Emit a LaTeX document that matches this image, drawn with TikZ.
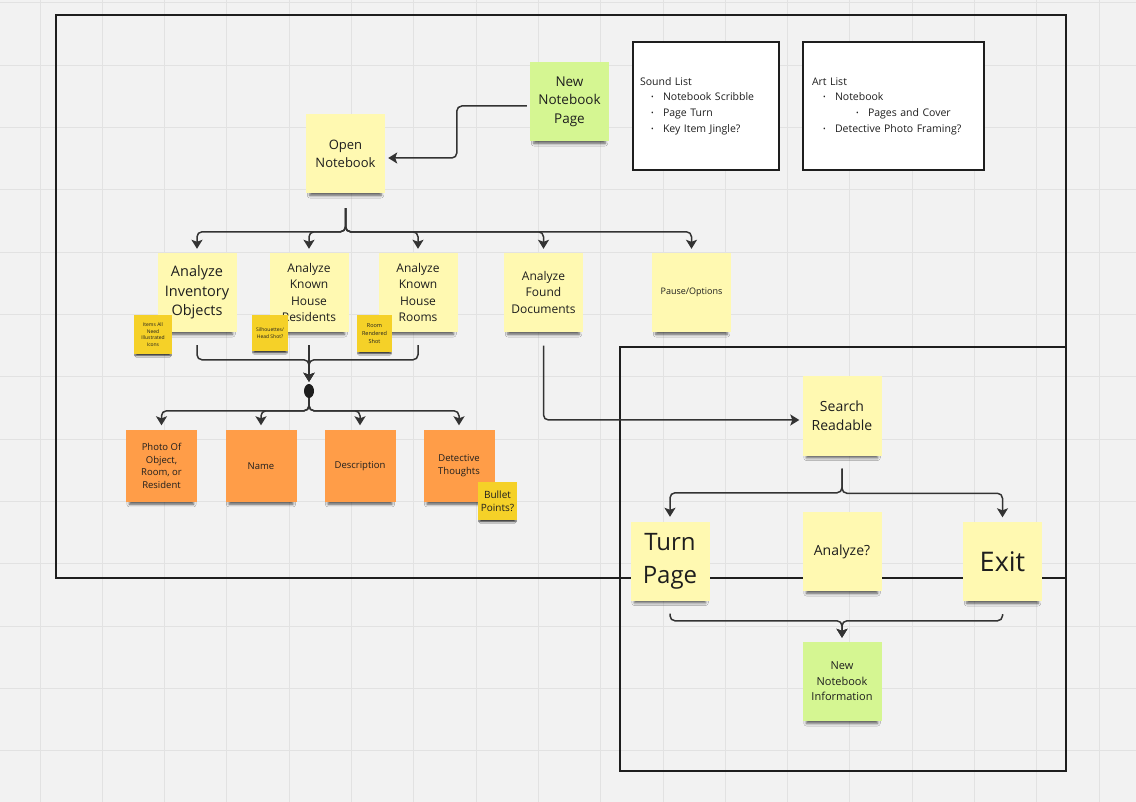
\documentclass[tikz,border=0pt]{standalone}
\usepackage{fontspec}
\setmainfont{Open Sans}
\usetikzlibrary{arrows.meta,shapes.geometric,shadows.blur}
\definecolor{board}{HTML}{F2F2F2}
\definecolor{gridline}{HTML}{E2E2E2}
\definecolor{ink}{HTML}{1E1E1E}
\definecolor{wire}{HTML}{333333}
\definecolor{noteyellow}{HTML}{FFF9B1}
\definecolor{notegreen}{HTML}{D5F692}
\definecolor{noteorange}{HTML}{FF9D48}
\definecolor{notegold}{HTML}{F5D128}
\newcommand\listdot{\raisebox{.2ex}{\fontsize{7}{7}\selectfont\textbullet}}
\newcommand\fs[2]{\fontsize{#1}{#2}\selectfont}

\begin{document}
\begin{tikzpicture}[x=1pt,y=-1pt,
    paper/.style={minimum width=79pt,minimum height=79pt,inner sep=2pt,align=center,text=ink,
        blur shadow={shadow xshift=0pt,shadow yshift=-7pt,shadow scale=.9,shadow opacity=65,shadow blur radius=3pt}},
    yellownote/.style={paper,fill=noteyellow},
    greennote/.style={paper,fill=notegreen},
    orangenote/.style={paper,fill=noteorange,minimum width=71pt,minimum height=71pt,font=\fs{9.5}{12.7}},
    tagnote/.style={paper,fill=notegold,inner sep=1pt,font=\fs{5}{6.5},
        blur shadow={shadow xshift=0pt,shadow yshift=-4pt,shadow scale=.9,shadow opacity=50,shadow blur radius=1.5pt}},
    listbox/.style={draw=ink,line width=1.3pt,fill=white,align=left,minimum height=128pt,text=ink,font=\fs{10.5}{15.7}},
    frame/.style={draw=ink,line width=1.3pt},
    arr/.style={draw=wire,line width=1.5pt,rounded corners=5pt,-{Stealth[length=9pt,width=11pt,inset=2pt]}}]

    % board and grid
    \fill[board] (0,0) rectangle (1136,802);
    \useasboundingbox (0,0) rectangle (1136,802);
    \foreach \i in {0,...,17}
        \draw[gridline,line width=1pt] ({40+62.3*\i},0) -- ({40+62.3*\i},802);
    \foreach \j in {0,...,12}
        \draw[gridline,line width=1pt] (0,{3+62.3*\j}) -- (1136,{3+62.3*\j});

    % frames
    \draw[frame] (56,15) rectangle (1066,578);
    \draw[frame] (620,347) rectangle (1066,771);

    % top
    \node[greennote,font=\fs{13.5}{18.5}] (newpage) at (569.5,101.5) {New\\Notebook\\Page};
    \node[yellownote,font=\fs{13}{18}] (open) at (345.5,153.5) {Open\\Notebook};
    \node[listbox,minimum width=146pt,inner xsep=7pt,text width=132pt] (sound) at (706,106)
        {Sound List\\
         \hspace*{11pt}\makebox[12pt][l]{\listdot}Notebook Scribble\\
         \hspace*{11pt}\makebox[12pt][l]{\listdot}Page Turn\\
         \hspace*{11pt}\makebox[12pt][l]{\listdot}Key Item Jingle?};
    \node[listbox,minimum width=181pt,inner xsep=9pt,text width=163pt] (art) at (893.5,106)
        {Art List\\
         \hspace*{11pt}\makebox[12pt][l]{\listdot}Notebook\\
         \hspace*{44pt}\makebox[12pt][l]{\listdot}Pages and Cover\\
         \hspace*{11pt}\makebox[12pt][l]{\listdot}Detective Photo Framing?};

    % analyses
    \node[yellownote,font=\fs{14.5}{19.5}] (inv) at (197,292.5) {Analyze\\Inventory\\Objects};
    \node[yellownote,font=\fs{12}{16.3}] (res) at (309,292.5) {Analyze\\Known\\House\\Residents};
    \node[yellownote,font=\fs{12}{16.3}] (rooms) at (418,292.5) {Analyze\\Known\\House\\Rooms};
    \node[yellownote,font=\fs{12}{16.5}] (docs) at (543.5,292.5) {Analyze\\Found\\Documents};
    \node[yellownote,font=\fs{9}{12}] (pause) at (691.5,292.5) {Pause/Options};

    \node[tagnote,minimum width=38pt,minimum height=39pt] (icons) at (153,334.5) {Items All\\Need\\Illustrated\\Icons};
    \node[tagnote,minimum width=36pt,minimum height=36pt] (heads) at (270,333) {Silhouettes/\\Head Shot?};
    \node[tagnote,minimum width=35pt,minimum height=37pt,font=\fs{5.5}{8}] (shot) at (374.5,333.5) {Room\\Rendered\\Shot};

    \node[ellipse,fill=ink,minimum width=10pt,minimum height=14pt,inner sep=0pt] (merge) at (309,391) {};

    % page parts
    \node[orangenote] (photo) at (161.5,466) {Photo Of\\Object,\\Room, or\\Resident};
    \node[orangenote] (name) at (261,466) {Name};
    \node[orangenote] (desc) at (360,466) {Description};
    \node[orangenote] (thoughts) at (459,466) {Detective\\Thoughts};
    \node[tagnote,minimum width=39pt,minimum height=38pt,font=\fs{10}{13}] (bullets) at (497.5,501) {Bullet\\Points?};

    % readable
    \node[yellownote,font=\fs{14}{19}] (search) at (842,416) {Search\\Readable};
    \node[yellownote,font=\fs{24}{33}] (turn) at (670,561) {Turn\\Page};
    \node[yellownote,font=\fs{14}{19}] (analyze) at (842,551.5) {Analyze?};
    \node[yellownote,font=\fs{27}{33}] (exit) at (1002.5,561.5) {Exit};
    \node[greennote,font=\fs{11}{15.5}] (info) at (842,681.5) {New\\Notebook\\Information};

    % connectors
    \draw[arr] ([xshift=-3pt,yshift=-4.5pt]newpage.west) -- ++(-70,0) |- ([xshift=3pt,yshift=-4.5pt]open.east);
    \foreach \t in {inv,res,rooms,docs,pause}
        \draw[arr] ([yshift=-15pt]open.south) |- ([yshift=21pt]\t.north) -- ([yshift=4pt]\t.north);
    \foreach \t in {inv,rooms}
        \draw[arr] ([yshift=-13pt]\t.south) |- ([yshift=24pt]merge.north) -- ([yshift=2pt]merge.north);
    \draw[arr] ([yshift=-13pt]res.south) -- ([yshift=2pt]merge.north);
    \foreach \t in {photo,name,desc,thoughts}
        \draw[arr] (merge.south) |- ([yshift=19.5pt]\t.north) -- ([yshift=5pt]\t.north);
    \draw[arr] ([yshift=-13.5pt]docs.south) |- ([xshift=-3pt,yshift=-4pt]search.west);
    \foreach \t in {turn,exit}
        \draw[arr] ([yshift=-13pt]search.south) |- ([yshift=28.5pt]\t.north) -- ([yshift=4.5pt]\t.north);
    \foreach \t in {turn,exit}
        \draw[arr] ([yshift=-13pt]\t.south) |- ([yshift=21pt]info.north) -- ([yshift=4pt]info.north);
\end{tikzpicture}
\end{document}
